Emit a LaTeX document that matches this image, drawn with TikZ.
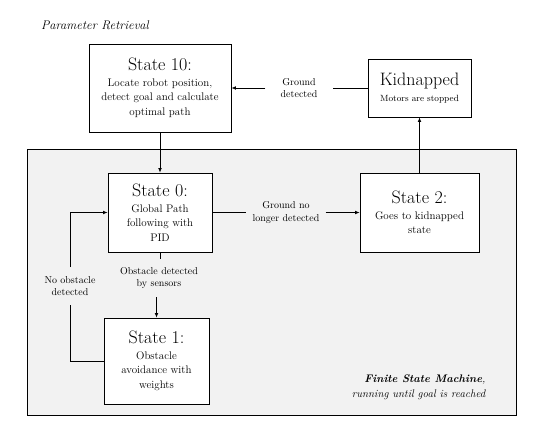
\documentclass[tikz,border=0pt]{standalone}
\usepackage{fontspec}
\definecolor{fsmbg}{HTML}{F2F2F2}
\usetikzlibrary{arrows.meta, positioning}
\tikzset{
	sbox/.style={draw=black, fill=white, line width=0.7pt, align=center,
		inner sep=3pt, font=\fontsize{11}{14.5}\selectfont},
	elabel/.style={align=center, inner sep=3pt, font=\fontsize{10}{12.5}\selectfont},
	sarr/.style={-{Latex[length=1.6mm, width=1.3mm]}, line width=0.7pt},
	sline/.style={line width=0.7pt}
}
\newcommand{\stitle}[1]{{\fontsize{18}{20}\selectfont #1}\\[1pt]}

\begin{document}
\begin{tikzpicture}[x=1pt, y=-1pt]
	\useasboundingbox (0,0) rectangle (537,428);
	% finite state machine frame
	\draw[sline, fill=fsmbg] (27,149) rectangle (516,415);
	\node[font=\fontsize{12.5}{14}\selectfont\itshape] (pr) at (95,25) {Parameter Retrieval};
	\node[anchor=east, align=right, font=\fontsize{11}{15}\selectfont\itshape] (fsm) at (489,387)
		{\textbf{Finite State Machine}, \\ running until goal is reached};

	\node[sbox, minimum width=142pt, minimum height=88pt] (s10) at (160,88)
		{\stitle{State 10:}Locate robot position,\\ detect goal and calculate\\ optimal path};
	\node[sbox, minimum width=103pt, minimum height=58pt] (kid) at (419.5,88)
		{\stitle{Kidnapped}{\fontsize{9}{11}\selectfont Motors are stopped}};
	\node[sbox, minimum width=104pt, minimum height=79pt] (s0) at (160,212.5)
		{\stitle{State 0:}Global Path\\ following with\\ PID};
	\node[sbox, minimum width=119pt, minimum height=79pt] (s2) at (419.5,212.5)
		{\stitle{State 2:}Goes to kidnapped\\ state};
	\node[sbox, minimum width=105pt, minimum height=86pt] (s1) at (156.5,361)
		{\stitle{State 1:}Obstacle\\ avoidance with\\ weights};

	% transition labels
	\node[elabel, inner xsep=15pt] (gd) at (299,88) {Ground\\ detected};
	\node[elabel, inner xsep=6pt] (gnl) at (286,212.5) {Ground no\\ longer detected};
	\node[elabel, inner ysep=8pt] (ods) at (159,278) {Obstacle detected\\ by sensors};
	\node[elabel, inner ysep=9pt] (nod) at (70,286) {No obstacle\\ detected};

	% transitions
	\draw[sarr] (s10) -- (s0);
	\draw[sline] (kid) -- (gd);
	\draw[sarr] (gd) -- (s10);
	\draw[sline] (s0) -- (gnl);
	\draw[sarr] (gnl) -- (s2);
	\draw[sarr] (s2) -- (kid);
	\draw[sline] (s0.south) -- (s0.south |- ods.north);
	\draw[sarr] (ods.south -| s1.north) -- (s1.north);
	\draw[sline] (s1.west) -| (nod.south);
	\draw[sarr] (nod.north) |- (s0.west);
\end{tikzpicture}
\end{document}
